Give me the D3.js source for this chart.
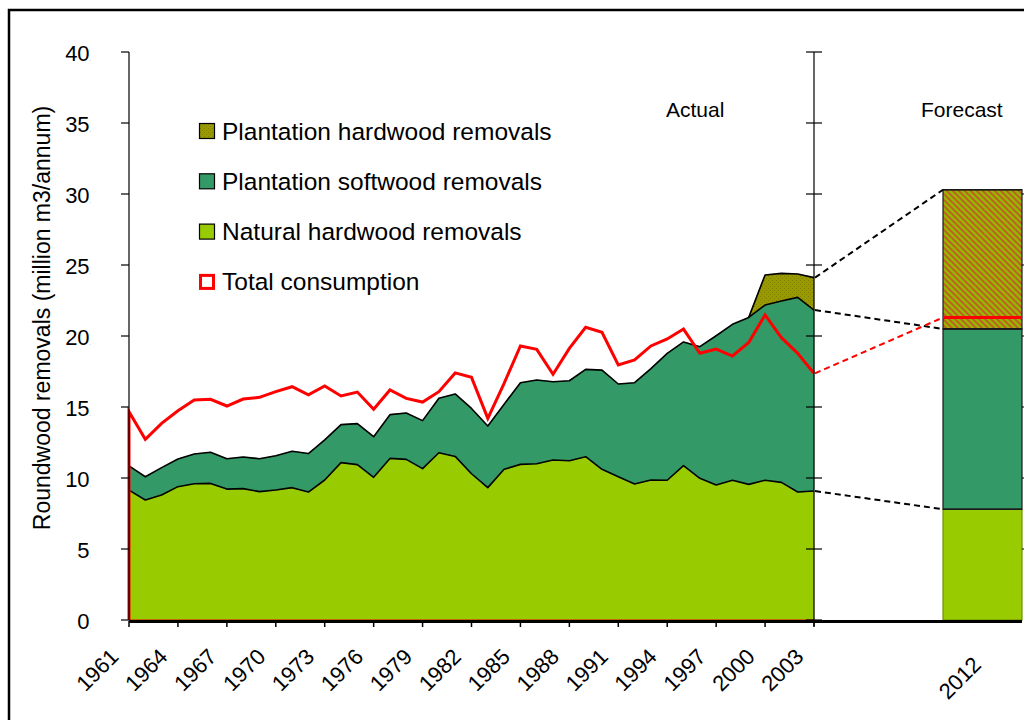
<!DOCTYPE html>
<html><head><meta charset="utf-8">
<script src="https://cdn.jsdelivr.net/npm/d3@7"></script>
<style>
body{margin:0;background:#fff}
svg{display:block}
text{font-family:"Liberation Sans",Arial,Helvetica,sans-serif;fill:#000}
</style>
</head><body><svg id="c" width="1024" height="720"></svg>
<script>
// ---------- data ----------
const years = [1961,1962,1963,1964,1965,1966,1967,1968,1969,1970,1971,1972,1973,1974,1975,1976,1977,1978,1979,1980,1981,1982,1983,1984,1985,1986,1987,1988,1989,1990,1991,1992,1993,1994,1995,1996,1997,1998,1999,2000,2001,2002,2003];
const naturalHardwood = [9.15,8.45,8.80,9.39,9.60,9.62,9.22,9.25,9.04,9.15,9.32,9.01,9.86,11.08,10.94,10.05,11.38,11.31,10.66,11.78,11.52,10.30,9.32,10.61,10.96,11.00,11.27,11.22,11.50,10.61,10.09,9.58,9.86,9.84,10.87,9.98,9.51,9.84,9.55,9.84,9.69,9.01,9.08];
const plantationSoftwood = [1.70,1.64,1.93,1.95,2.09,2.19,2.14,2.23,2.32,2.42,2.56,2.71,2.82,2.68,2.89,2.86,3.08,3.27,3.38,3.83,4.40,4.60,4.34,4.59,5.75,5.90,5.51,5.63,6.15,6.99,6.53,7.13,7.84,8.94,8.71,9.27,10.51,10.98,11.76,12.34,12.77,13.71,12.75];
const plantationHardwood = [0,0,0,0,0,0,0,0,0,0,0,0,0,0,0,0,0,0,0,0,0,0,0,0,0,0,0,0,0,0,0,0,0,0,0,0,0,0,0,2.12,1.95,1.65,2.28];
const totalConsumption = [14.67,12.72,13.85,14.74,15.49,15.54,15.07,15.56,15.68,16.08,16.43,15.85,16.48,15.78,16.05,14.84,16.20,15.61,15.35,16.08,17.40,17.09,14.20,16.67,19.30,19.06,17.30,19.13,20.61,20.26,17.96,18.31,19.30,19.79,20.49,18.78,19.08,18.59,19.55,21.48,19.88,18.78,17.37];
const plantationHardwoodStart = 1999;

const forecastCategory = ["2012"];
const forecastNaturalHardwood = [7.8];
const forecastPlantationSoftwood = [12.7];
const forecastPlantationHardwood = [9.8];
const forecastTotalConsumption = [21.3];

const xTickYears = [1961,1964,1967,1970,1973,1976,1979,1982,1985,1988,1991,1994,1997,2000,2003];
const yTicks = [0,5,10,15,20,25,30,35,40];
const legendLabels = ["Plantation hardwood removals","Plantation softwood removals","Natural hardwood removals","Total consumption"];
const periodLabels = ["Actual","Forecast"];
const yTitle = "Roundwood removals (million m3/annum)";

// ---------- setup ----------
const svg = d3.select("#c");
const C = {nh:"#99CC00", ps:"#339966", ph:"#999900", red:"#FF0000"};

const defs = svg.append("defs");
const pOl = defs.append("pattern").attr("id","olive").attr("width",4).attr("height",4).attr("patternUnits","userSpaceOnUse");
pOl.append("rect").attr("width",4).attr("height",4).attr("fill",C.ph);
pOl.append("rect").attr("width",1).attr("height",1).attr("fill","#7f7f00");
pOl.append("rect").attr("x",2).attr("y",2).attr("width",1).attr("height",1).attr("fill","#7f7f00");
const pH = defs.append("pattern").attr("id","hatch").attr("width",6).attr("height",6).attr("patternUnits","userSpaceOnUse");
pH.append("rect").attr("width",6).attr("height",6).attr("fill","#99B400");
pH.append("path").attr("d","M-1,-1L7,7M-1,5L1,7M5,-1L7,1").attr("stroke","#BF5A28").attr("stroke-width",1.6);

const x = d3.scaleLinear().domain([1961,2003]).range([129,814]);
const y = d3.scaleLinear().domain([0,40]).range([620,52]);
const xF = d3.scaleBand().domain(forecastCategory).range([943,1022]);

// frame
svg.append("path").attr("d","M9,720V10H1024").attr("fill","none").attr("stroke","#000").attr("stroke-width",2.5);

// ---------- stacked areas ----------
const rows = years.map((yr,i)=>({year:yr, nh:naturalHardwood[i], ps:plantationSoftwood[i], ph:plantationHardwood[i]}));
const stacked = d3.stack().keys(["nh","ps","ph"])(rows);
const fills = {nh:C.nh, ps:C.ps, ph:"url(#olive)"};
stacked.forEach(layer=>{
  const def = layer.key==="ph" ? (d=>d.data.year>=plantationHardwoodStart) : (()=>true);
  const area = d3.area().defined(def).x(d=>x(d.data.year)).y0(d=>y(d[0])).y1(d=>y(d[1]));
  svg.append("path").datum(layer).attr("d",area).attr("fill",fills[layer.key]).attr("stroke",fills[layer.key]).attr("stroke-width",0.5);
});
stacked.forEach(layer=>{
  const def = layer.key==="ph" ? (d=>d.data.year>=plantationHardwoodStart) : (()=>true);
  const line = d3.line().defined(def).x(d=>x(d.data.year)).y(d=>y(d[1]));
  svg.append("path").datum(layer).attr("d",line).attr("fill","none").attr("stroke","#000").attr("stroke-width",1.6).attr("stroke-linejoin","round");
});

// baseline tint of the total series
svg.append("line").attr("x1",x(1961)).attr("x2",x(2003)).attr("y1",y(0)-0.5).attr("y2",y(0)-0.5).attr("stroke","#C06A00").attr("stroke-width",1);

// total consumption line (starts from baseline)
const tcPts = [[years[0],0]].concat(years.map((yr,i)=>[yr,totalConsumption[i]]));
svg.append("path").datum(tcPts)
  .attr("d",d3.line().x(d=>x(d[0])).y(d=>y(d[1])))
  .attr("fill","none").attr("stroke",C.red).attr("stroke-width",3).attr("stroke-linejoin","miter");

// ---------- forecast bar ----------
const fRows = forecastCategory.map((c,i)=>({cat:c, nh:forecastNaturalHardwood[i], ps:forecastPlantationSoftwood[i], ph:forecastPlantationHardwood[i]}));
const fStack = d3.stack().keys(["nh","ps","ph"])(fRows);
const fFill = {nh:C.nh, ps:C.ps, ph:"url(#hatch)"};
fStack.forEach(layer=>{
  svg.selectAll(null).data(layer).enter().append("rect")
    .attr("x",d=>xF(d.data.cat)).attr("width",xF.bandwidth())
    .attr("y",d=>y(d[1])).attr("height",d=>y(d[0])-y(d[1]))
    .attr("fill",fFill[layer.key])
    .attr("stroke",layer.key==="nh"?"#6f8f00":"#1a1a1a").attr("stroke-width",1.2);
});
fStack.forEach(layer=>{
  svg.selectAll(null).data(layer).enter().append("line")
    .attr("x1",d=>xF(d.data.cat)).attr("x2",d=>xF(d.data.cat)+xF.bandwidth())
    .attr("y1",d=>y(d[1])).attr("y2",d=>y(d[1]))
    .attr("stroke","#1a1a1a").attr("stroke-width",1.6);
});
svg.selectAll(null).data(forecastCategory).enter().append("line")
  .attr("x1",d=>xF(d)).attr("x2",d=>xF(d)+xF.bandwidth())
  .attr("y1",(d,i)=>y(forecastTotalConsumption[i])).attr("y2",(d,i)=>y(forecastTotalConsumption[i]))
  .attr("stroke",C.red).attr("stroke-width",3);

// ---------- dashed connectors ----------
const last = stacked.map(l=>l[l.length-1][1]);
const fTops = fStack.map(l=>l[0][1]);
const connectors = [0,1,2].map(k=>({a:last[k], b:fTops[k], color:"#000"}));
connectors.push({a:totalConsumption[totalConsumption.length-1], b:forecastTotalConsumption[0], color:C.red});
svg.selectAll(null).data(connectors).enter().append("line")
  .attr("x1",x(2003)+1).attr("x2",xF(forecastCategory[0]))
  .attr("y1",d=>y(d.a)).attr("y2",d=>y(d.b))
  .attr("stroke",d=>d.color).attr("stroke-width",2).attr("stroke-dasharray","6,4");

// ---------- axes ----------
const ax = svg.append("g");
ax.append("line").attr("x1",x(1961)).attr("x2",x(1961)).attr("y1",y(40)).attr("y2",y(0)).attr("stroke","#000").attr("stroke-width",1.2);
ax.selectAll(null).data(yTicks).enter().append("line")
  .attr("x1",x(1961)-8).attr("x2",x(1961)).attr("y1",d=>y(d)).attr("y2",d=>y(d)).attr("stroke","#000").attr("stroke-width",1.2);
const yl = ax.selectAll(null).data(yTicks).enter().append("text")
  .attr("x",91).attr("y",d=>y(d)+8.5).attr("text-anchor","end").attr("font-size",22);
yl.append("tspan").text(d=>d);
yl.append("tspan").attr("font-size",5).attr("fill","#666").text(".");
ax.append("line").attr("x1",x(2003)).attr("x2",x(2003)).attr("y1",y(40)).attr("y2",y(0)+6).attr("stroke","#000").attr("stroke-width",1.2);
ax.selectAll(null).data(yTicks).enter().append("line")
  .attr("x1",x(2003)-8).attr("x2",x(2003)+8).attr("y1",d=>y(d)).attr("y2",d=>y(d)).attr("stroke","#000").attr("stroke-width",1.2);
const fTopTotal = fTops[2];
ax.selectAll(null).data(yTicks.filter(t=>t>0 && t<fTopTotal)).enter().append("line")
  .attr("x1",xF.range()[1]).attr("x2",xF.range()[1]+4).attr("y1",d=>y(d)).attr("y2",d=>y(d)).attr("stroke","#000").attr("stroke-width",1);
ax.append("line").attr("x1",x(1961)).attr("x2",xF.range()[1]).attr("y1",y(0)+1.5).attr("y2",y(0)+1.5).attr("stroke","#000").attr("stroke-width",3);
ax.selectAll(null).data(xTickYears).enter().append("line")
  .attr("x1",d=>x(d)).attr("x2",d=>x(d)).attr("y1",y(0)+1).attr("y2",y(0)+7).attr("stroke","#000").attr("stroke-width",1.5);
ax.selectAll(null).data(xTickYears).enter().append("text")
  .attr("transform",d=>`translate(${x(d)-9},${658}) rotate(-45)`)
  .attr("text-anchor","end").attr("font-size",22).text(d=>d);
ax.selectAll(null).data(forecastCategory).enter().append("text")
  .attr("transform",d=>`translate(${xF(d)+xF.bandwidth()/2},${666}) rotate(-45)`)
  .attr("text-anchor","end").attr("font-size",22).text(d=>d);

// y title
svg.append("text").attr("transform","translate(50,318) rotate(-90)").attr("text-anchor","middle").attr("font-size",23).text(yTitle);

// period labels
svg.append("text").attr("x",666).attr("y",117).attr("font-size",21).text(periodLabels[0]);
svg.append("text").attr("x",921).attr("y",117).attr("font-size",21).text(periodLabels[1]);

// ---------- legend ----------
const legFill = ["url(#olive)", C.ps, C.nh, "#fff"];
const lg = svg.append("g");
legendLabels.forEach((lab,i)=>{
  const cy = 131 + i*50.3;
  if(i<3){
    lg.append("rect").attr("x",199.5).attr("y",cy-7.5).attr("width",15).attr("height",15).attr("fill",legFill[i]).attr("stroke","#000").attr("stroke-width",1.2);
  } else {
    lg.append("rect").attr("x",200.5).attr("y",cy-6.5).attr("width",13).attr("height",13).attr("fill","#fff").attr("stroke",C.red).attr("stroke-width",3);
  }
  lg.append("text").attr("x",222).attr("y",cy+8.5).attr("font-size",24.5).text(lab);
});
</script>
</body></html>
